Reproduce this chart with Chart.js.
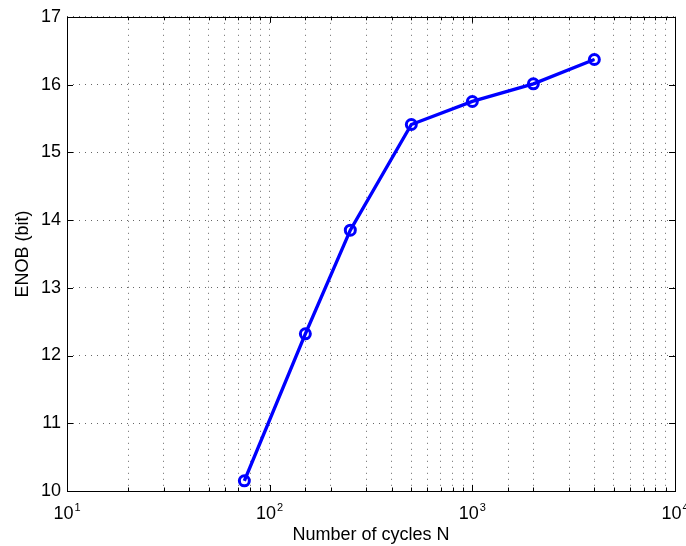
<!DOCTYPE html>
<html>
<head>
<meta charset="utf-8">
<script src="https://cdn.jsdelivr.net/npm/chart.js@4.4.1/dist/chart.umd.min.js"></script>
<style>
  html, body { margin: 0; padding: 0; background: #fff; }
  #wrap { width: 686px; height: 546px; }
</style>
</head>
<body>
<div id="wrap"><canvas id="myChart" width="686" height="546"></canvas></div>
<script>
// data
const cycles = [75, 150, 250, 500, 1000, 2000, 4000];
const enob = [10.15, 12.32, 13.85, 15.41, 15.75, 16.01, 16.37];

// x tick labels are 10^exp
const xTickExps = [1, 2, 3, 4];
const yTicks = [10, 11, 12, 13, 14, 15, 16, 17];

const FONT = 'Liberation Sans, Arial, Helvetica, sans-serif';

// draws the box, inward ticks and the 10^n labels (matlab look)
const matlabAxes = {
    id: 'matlabAxes',
    afterDraw(chart) {
        const ctx = chart.ctx;
        const area = chart.chartArea;
        const xs = chart.scales.x;
        const ys = chart.scales.y;
        ctx.save();
        ctx.strokeStyle = '#000';
        ctx.lineWidth = 1;

        // x ticks (major + minor from the log scale)
        ctx.beginPath();
        for (const t of xs.ticks) {
            const lg = Math.log10(t.value);
            const major = Math.abs(lg - Math.round(lg)) < 1e-9;
            const len = major ? 6 : 3.5;
            const px = Math.round(xs.getPixelForValue(t.value)) + 0.5;
            ctx.moveTo(px, area.bottom);
            ctx.lineTo(px, area.bottom - len);
            ctx.moveTo(px, area.top);
            ctx.lineTo(px, area.top + len);
        }
        // y ticks
        for (const v of yTicks) {
            const py = Math.round(ys.getPixelForValue(v)) + 0.5;
            ctx.moveTo(area.left, py);
            ctx.lineTo(area.left + 6, py);
            ctx.moveTo(area.right, py);
            ctx.lineTo(area.right - 6, py);
        }
        ctx.stroke();

        // frame
        ctx.strokeRect(Math.round(area.left) + 0.5, Math.round(area.top) + 0.5,
            Math.round(area.right - area.left), Math.round(area.bottom - area.top));

        // x labels with superscript
        ctx.fillStyle = '#000';
        ctx.textBaseline = 'alphabetic';
        for (const e of xTickExps) {
            const px = xs.getPixelForValue(Math.pow(10, e));
            ctx.font = '18px ' + FONT;
            const baseW = ctx.measureText('10').width;
            ctx.font = '11px ' + FONT;
            const expW = ctx.measureText(String(e)).width;
            const total = baseW + 1 + expW;
            const x0 = px - total / 2;
            ctx.font = '18px ' + FONT;
            ctx.textAlign = 'left';
            ctx.fillText('10', x0, 519);
            ctx.font = '11px ' + FONT;
            ctx.fillText(String(e), x0 + baseW + 1, 511);
        }
        ctx.restore();
    }
};

const ctx = document.getElementById('myChart').getContext('2d');
const myChart = new Chart(ctx, {
    type: 'line',
    data: {
        datasets: [{
            label: 'ENOB',
            data: cycles.map((c, i) => ({ x: c, y: enob[i] })),
            borderColor: '#0000ff',
            borderWidth: 3.4,
            pointRadius: 5,
            pointBorderWidth: 3,
            pointBorderColor: '#0000ff',
            pointBackgroundColor: 'rgba(0,0,0,0)',
            pointHoverRadius: 5,
            tension: 0,
            fill: false
        }]
    },
    options: {
        responsive: false,
        animation: false,
        devicePixelRatio: 1,
        layout: { padding: { left: 0, top: 12, right: 11, bottom: 0 } },
        plugins: {
            legend: { display: false },
            tooltip: { enabled: false }
        },
        scales: {
            x: {
                type: 'logarithmic',
                min: 10,
                max: 10000,
                afterFit: (s) => { s.height = 55; },
                grid: { color: 'rgba(0,0,0,0.6)', lineWidth: 1, drawTicks: false },
                border: { display: false, dash: [1, 5] },
                ticks: { display: false },
                title: {
                    display: true,
                    text: 'Number of cycles N',
                    color: '#000',
                    font: { family: FONT, size: 18 },
                    padding: { top: 0, bottom: 0 }
                }
            },
            y: {
                min: 10,
                max: 17,
                afterFit: (s) => { s.width = 67; },
                afterBuildTicks: (s) => { s.ticks = yTicks.map(v => ({ value: v })); },
                grid: { color: 'rgba(0,0,0,0.6)', lineWidth: 1, drawTicks: false },
                border: { display: false, dash: [1, 5] },
                ticks: {
                    color: '#000',
                    padding: 6,
                    font: { family: FONT, size: 18 }
                },
                title: {
                    display: true,
                    text: 'ENOB (bit)',
                    color: '#000',
                    font: { family: FONT, size: 18 },
                    padding: { top: 12, bottom: 0 }
                }
            }
        }
    },
    plugins: [matlabAxes]
});
</script>
</body>
</html>
